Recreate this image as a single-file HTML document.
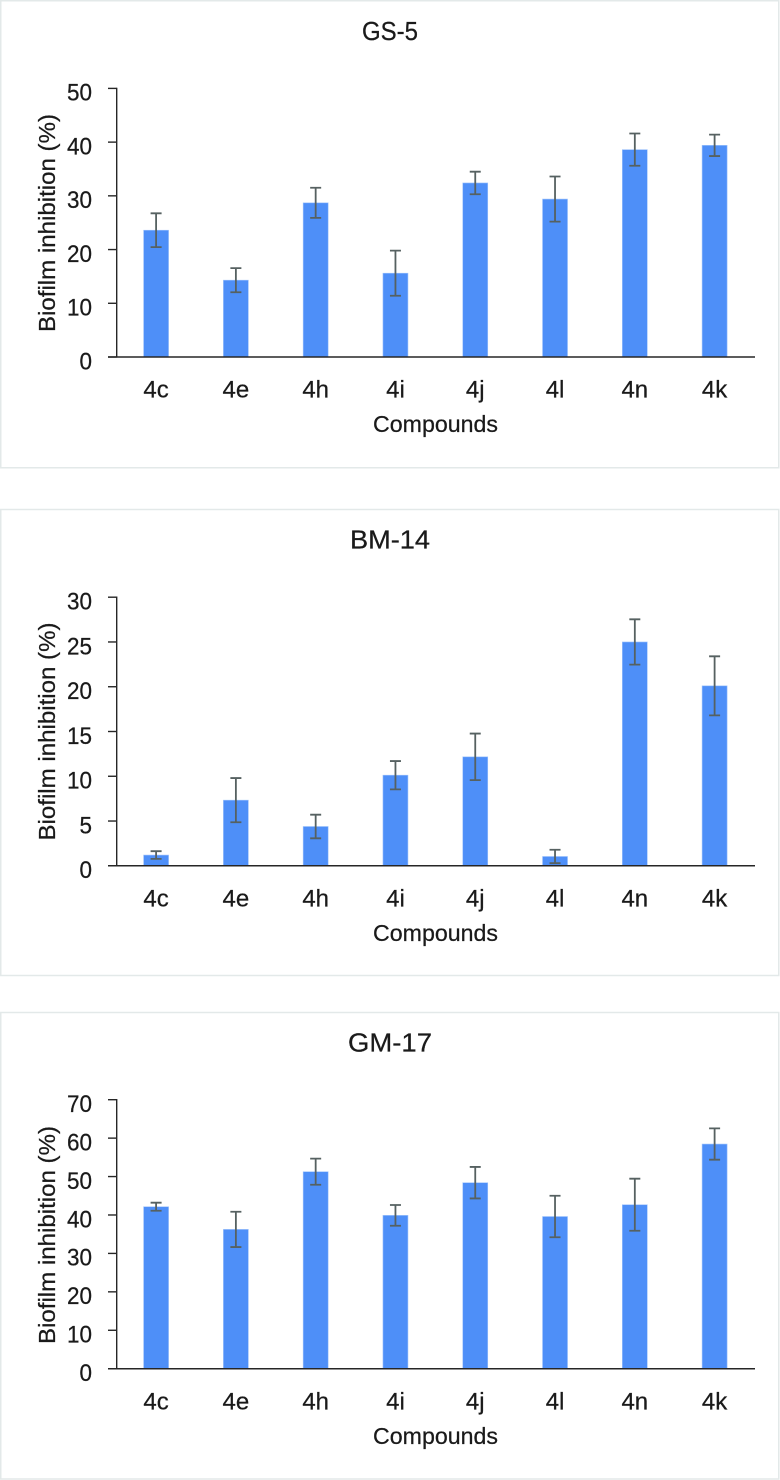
<!DOCTYPE html>
<html lang="en">
<head>
<meta charset="utf-8">
<title>Biofilm inhibition by compound</title>
<style>
  html, body { margin: 0; padding: 0; background: #fff; }
  body { width: 780px; height: 1480px; overflow: hidden; }
  svg { display: block; }
  text { font-family: "Liberation Sans", sans-serif; fill: #1a1a1a; stroke: #1a1a1a; stroke-width: 0.25px; }
  .title { font-size: 26px; text-anchor: middle; }
  .axis-title { font-size: 23.5px; text-anchor: middle; }
  .tick { font-size: 24px; text-anchor: end; }
  .cat { font-size: 24px; text-anchor: middle; }
</style>
</head>
<body>
<svg id="figure" width="780" height="1480" viewBox="0 0 780 1480" xmlns="http://www.w3.org/2000/svg">
  <g id="panel-gs5">
    <rect x="0.75" y="0.75" width="778" height="467" fill="#fff" stroke="#e3e9e9" stroke-width="1.5"/>
    <text class="title" x="390" y="40" textLength="56" lengthAdjust="spacingAndGlyphs">GS-5</text>
    <text class="axis-title" transform="translate(55 223) rotate(-90)" textLength="218" lengthAdjust="spacingAndGlyphs">Biofilm inhibition (%)</text>
    <text class="axis-title" x="435.5" y="432" textLength="125" lengthAdjust="spacingAndGlyphs">Compounds</text>
  </g>
  <g id="panel-bm14">
    <rect x="0.75" y="509.5" width="778" height="466" fill="#fff" stroke="#e3e9e9" stroke-width="1.5"/>
    <text class="title" x="390" y="548.5" textLength="80" lengthAdjust="spacingAndGlyphs">BM-14</text>
    <text class="axis-title" transform="translate(55 731.5) rotate(-90)" textLength="218" lengthAdjust="spacingAndGlyphs">Biofilm inhibition (%)</text>
    <text class="axis-title" x="435.5" y="941" textLength="125" lengthAdjust="spacingAndGlyphs">Compounds</text>
  </g>
  <g id="panel-gm17">
    <rect x="0.75" y="1012.5" width="778" height="466.5" fill="#fff" stroke="#e3e9e9" stroke-width="1.5"/>
    <text class="title" x="390" y="1051.5" textLength="84" lengthAdjust="spacingAndGlyphs">GM-17</text>
    <text class="axis-title" transform="translate(55 1235) rotate(-90)" textLength="218" lengthAdjust="spacingAndGlyphs">Biofilm inhibition (%)</text>
    <text class="axis-title" x="435.5" y="1444" textLength="125" lengthAdjust="spacingAndGlyphs">Compounds</text>
  </g>
</svg>
<script>
const categories = ['4c', '4e', '4h', '4i', '4j', '4l', '4n', '4k'];

const gs5Values = [23.6, 14.3, 28.7, 15.6, 32.4, 29.4, 38.6, 39.4];
const gs5Errors = [3.15, 2.25, 2.8, 4.2, 2.1, 4.2, 3.0, 2.0];
const gs5Ticks = [0, 10, 20, 30, 40, 50];

const bm14Values = [1.2, 7.33, 4.39, 10.12, 12.17, 1.04, 25.0, 20.1];
const bm14Errors = [0.43, 2.47, 1.32, 1.58, 2.6, 0.75, 2.53, 3.3];
const bm14Ticks = [0, 5, 10, 15, 20, 25, 30];

const gm17Values = [42.15, 36.25, 51.26, 39.9, 48.4, 39.6, 42.67, 58.46];
const gm17Errors = [1.05, 4.6, 3.4, 2.7, 4.1, 5.4, 6.77, 4.07];
const gm17Ticks = [0, 10, 20, 30, 40, 50, 60, 70];

const SVG_NS = 'http://www.w3.org/2000/svg';

function node(tag, parent, attrs, content) {
  const el = document.createElementNS(SVG_NS, tag);
  for (const key in attrs) el.setAttribute(key, attrs[key]);
  if (content !== undefined) el.textContent = content;
  parent.appendChild(el);
  return el;
}

function drawChart(panelId, prefix, values, errors, ticks, axisTop, axisBottom) {
  const panel = document.getElementById(panelId);
  const plotLeft = 116.7;
  const plotRight = 755;
  const maxTick = ticks[ticks.length - 1];
  const yScale = function (v) { return axisBottom - (v / maxTick) * (axisBottom - axisTop); };
  const xScale = function (i) { return plotLeft + (i + 0.5) * (plotRight - plotLeft) / categories.length - 0.5; };

  categories.forEach(function (cat, i) {
    const cx = xScale(i);
    const top = yScale(values[i]);
    const bar = node('rect', panel, {
      x: cx - 12.5, y: top, width: 25, height: axisBottom - top,
      fill: '#4e8ff8', stroke: '#9fc3fb', 'stroke-width': 0.6
    });
    
    

    const hi = yScale(values[i] + errors[i]);
    const lo = yScale(values[i] - errors[i]);
    const err = node('path', panel, {
      d: 'M' + (cx - 5.5) + ' ' + hi + 'H' + (cx + 5.5) +
         'M' + cx + ' ' + hi + 'V' + lo +
         'M' + (cx - 5.5) + ' ' + lo + 'H' + (cx + 5.5),
      fill: 'none', stroke: '#566161', 'stroke-width': 1.8
    });
    
    

    const label = node('text', panel, { class: 'cat', x: cx, y: axisBottom + 40.7 }, cat);
    
    
  });

  ticks.forEach(function (t) {
    const y = yScale(t);
    const tick = node('line', panel, { x1: 108, x2: plotLeft, y1: y, y2: y, stroke: '#262626', 'stroke-width': 1.4 });
    
    

    const digits = String(t).length;
    const label = node('text', panel, { class: 'tick', x: 92, y: y + 12.3, textLength: digits * 12.5, lengthAdjust: 'spacingAndGlyphs' }, String(t));
    
    
  });

  const yAxis = node('line', panel, { x1: plotLeft, x2: plotLeft, y1: axisTop - 0.7, y2: axisBottom, stroke: '#262626', 'stroke-width': 1.4 });
  
  

  const xAxis = node('line', panel, { x1: 108, x2: plotRight, y1: axisBottom, y2: axisBottom, stroke: '#262626', 'stroke-width': 1.5 });
  
  
}

drawChart('panel-gs5', 'gs-5', gs5Values, gs5Errors, gs5Ticks, 88.4, 357);
drawChart('panel-bm14', 'bm-14', bm14Values, bm14Errors, bm14Ticks, 597.2, 865.8);
drawChart('panel-gm17', 'gm-17', gm17Values, gm17Errors, gm17Ticks, 1099.7, 1368.7);
</script>
</body>
</html>
